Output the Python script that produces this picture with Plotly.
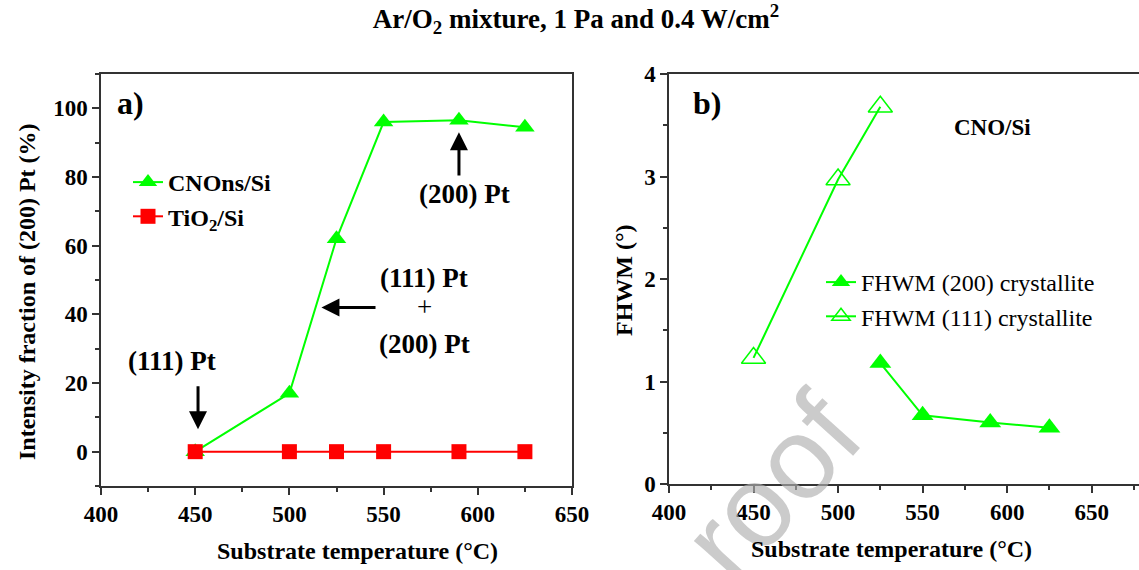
import plotly.graph_objects as go

# ---- data ----
temp = [450, 500, 525, 550, 590, 625]
cnons_frac = [0, 17, 62, 96, 96.5, 94.5]
tio2_frac = [0, 0, 0, 0, 0, 0]

temp_200 = [525, 550, 590, 625]
fwhm_200 = [1.18, 0.67, 0.60, 0.55]
temp_111 = [450, 500, 525]
fwhm_111 = [1.23, 2.97, 3.68]

W, H = 1139, 570
GREEN = "#00FF00"
RED = "#FF0000"
SERIF = "Liberation Serif"

def px(x):
    return x / W

def py(y):
    return 1 - y / H

fig = go.Figure()

fig.add_trace(go.Scatter(x=temp, y=cnons_frac, mode="lines+markers", name="CNOns/Si",
                         line=dict(color=GREEN, width=2),
                         marker=dict(symbol="triangle-up", size=17, color=GREEN),
                         xaxis="x", yaxis="y", legend="legend", cliponaxis=False))
fig.add_trace(go.Scatter(x=temp, y=tio2_frac, mode="lines+markers", name="TiO<sub>2</sub>/Si",
                         line=dict(color=RED, width=2),
                         marker=dict(symbol="square", size=15, color=RED),
                         xaxis="x", yaxis="y", legend="legend", cliponaxis=False))

fig.add_trace(go.Scatter(x=temp_200, y=fwhm_200, mode="lines+markers", name="FHWM (200) crystallite",
                         line=dict(color=GREEN, width=2),
                         marker=dict(symbol="triangle-up", size=19, color=GREEN),
                         xaxis="x2", yaxis="y2", legend="legend2", cliponaxis=False))
fig.add_trace(go.Scatter(x=temp_111, y=fwhm_111, mode="lines+markers", name="FHWM (111) crystallite",
                         line=dict(color=GREEN, width=2),
                         marker=dict(symbol="triangle-up-open", size=21, color=GREEN,
                                     line=dict(width=1.5, color=GREEN)),
                         xaxis="x2", yaxis="y2", legend="legend2", cliponaxis=False))

tickfont = dict(family=SERIF, size=23, color="black", weight="bold")
axis_common = dict(showgrid=False, zeroline=False, showline=True, linecolor="#333",
                   linewidth=1.5, ticks="outside", ticklen=7, tickwidth=1.5, tickcolor="#333",
                   tickfont=tickfont, automargin=False)
minor_common = dict(ticklen=4, ticks="outside", tickcolor="#333", tickwidth=1.5)

fig.update_layout(
    template="none",
    width=W, height=H,
    margin=dict(l=0, r=0, t=0, b=0, autoexpand=False),
    paper_bgcolor="white", plot_bgcolor="white",
    showlegend=True,
    title=dict(text="<b>Ar/O<sub>2</sub> mixture, 1 Pa and 0.4 W/cm<sup>2</sup></b>",
               font=dict(family=SERIF, size=27, color="black"),
               x=576 / W, xanchor="center", y=1 - 19 / H, yanchor="middle", yref="container"),
    xaxis=dict(domain=[px(101), px(572)], range=[400, 650], tickvals=[400, 450, 500, 550, 600, 650],
               minor=dict(tickvals=[425, 475, 525, 575, 625], **minor_common),
               mirror=True, anchor="y", **axis_common),
    yaxis=dict(domain=[py(486), py(74)], range=[-10, 110], tickvals=[0, 20, 40, 60, 80, 100],
               minor=dict(tickvals=[-10, 10, 30, 50, 70, 90, 110], **minor_common),
               mirror=True, anchor="x", **axis_common),
    xaxis2=dict(domain=[px(669), 1.0], range=[400, 678], tickvals=[400, 450, 500, 550, 600, 650],
                minor=dict(tickvals=[425, 475, 525, 575, 625, 675], **minor_common),
                mirror=True, anchor="y2", **axis_common),
    yaxis2=dict(domain=[py(484), py(74)], range=[0, 4], tickvals=[0, 1, 2, 3, 4],
                minor=dict(tickvals=[0.5, 1.5, 2.5, 3.5], **minor_common),
                anchor="x2", **axis_common),
    legend=dict(x=px(128), y=py(160), xanchor="left", yanchor="top",
                font=dict(family=SERIF, size=24, color="black", weight="bold"),
                bgcolor="rgba(0,0,0,0)", itemsizing="trace", tracegroupgap=0),
    legend2=dict(x=px(821), y=py(260), xanchor="left", yanchor="top",
                 font=dict(family=SERIF, size=24, color="black"),
                 bgcolor="rgba(255,255,255,0.9)", itemsizing="trace", tracegroupgap=0),
)

ann = []
def text(x, y, s, size=24, bold=True, ref=("x", "y"), **kw):
    ann.append(dict(x=x, y=y, xref=ref[0], yref=ref[1], text=(f"<b>{s}</b>" if bold else s),
                    showarrow=False, xanchor="center", yanchor="middle",
                    font=dict(family=SERIF, size=size, color="black"), **kw))

# watermark (only the part visible in the reference)
ann.append(dict(x=px(772), y=py(486), xref="paper", yref="paper", text="roof",
                showarrow=False, textangle=-48, xanchor="center", yanchor="middle",
                font=dict(family="Liberation Sans", size=116, color="rgba(175,175,175,0.65)")))

# axis titles
text(px(357), py(551), "Substrate temperature (°C)", size=24, ref=("paper", "paper"))
text(px(891), py(549), "Substrate temperature (°C)", size=24, ref=("paper", "paper"))
text(px(27), py(292), "Intensity fraction of (200) Pt (%)", size=24, ref=("paper", "paper"), textangle=-90)
text(px(624), py(280), "FHWM (°)", size=24, ref=("paper", "paper"), textangle=-90)

# panel labels
text(px(130), py(103), "a)", size=32, ref=("paper", "paper"))
text(px(707), py(103), "b)", size=32, ref=("paper", "paper"))
text(px(993), py(127), "CNO/Si", size=23, ref=("paper", "paper"))

# left panel annotations
text(593, 75, "(200) Pt", size=27)
text(437.5, 26.5, "(111) Pt", size=27)
text(571.5, 50.5, "(111) Pt", size=27)
text(571.5, 42, "+", size=27, bold=False)
text(571.5, 31.5, "(200) Pt", size=27)

arrow_common = dict(showarrow=True, arrowhead=2, arrowsize=1.2, arrowwidth=3, arrowcolor="black",
                    text="", axref="x", ayref="y", xref="x", yref="y")
ann.append(dict(x=590, y=93, ax=590, ay=80, **arrow_common))
ann.append(dict(x=451.5, y=6.5, ax=451.5, ay=19.5, **arrow_common))
ann.append(dict(x=517, y=42, ax=546.5, ay=42, **arrow_common))

fig.update_layout(annotations=ann)

fig.write_html("out.html")
